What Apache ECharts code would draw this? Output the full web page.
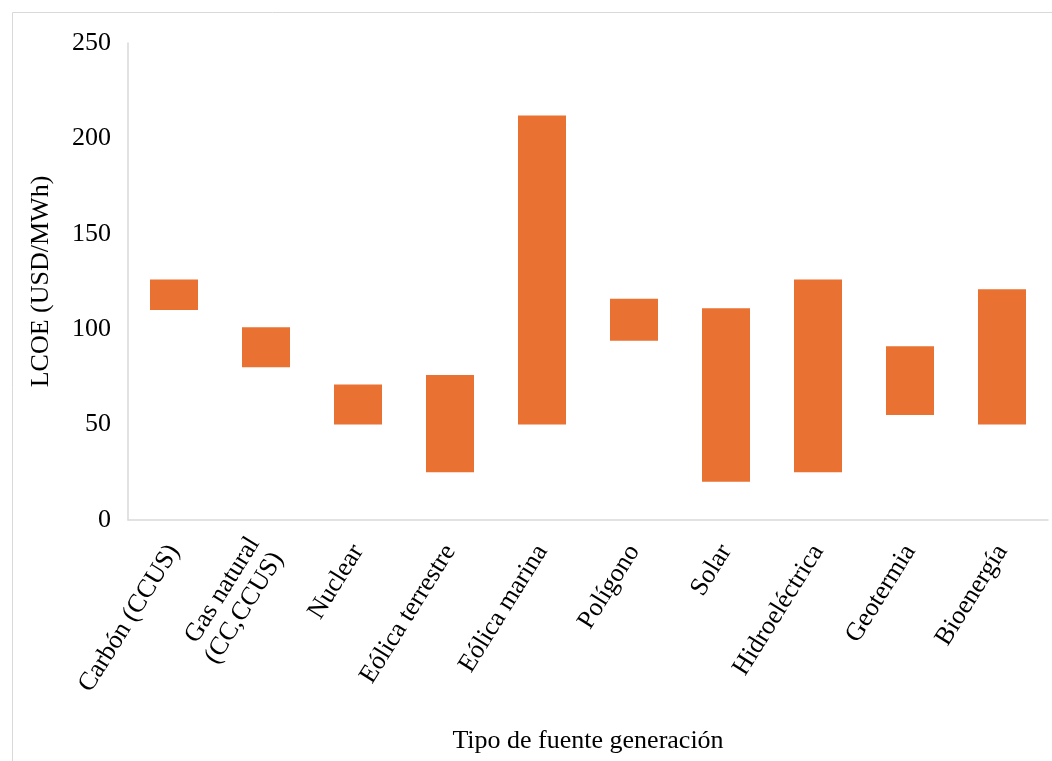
<!DOCTYPE html>
<html>
<head>
<meta charset="utf-8">
<script src="https://cdn.jsdelivr.net/npm/echarts@6/dist/echarts.min.js"></script>
<style>
html,body{margin:0;padding:0;background:#fff;}
#chart{width:1052px;height:761px;}
</style>
</head>
<body>
<div id="chart"></div>
<script>
const categories = ['Carbón (CCUS)', 'Gas natural\n(CC,CCUS)', 'Nuclear', 'Eólica terrestre', 'Eólica marina', 'Polígono', 'Solar', 'Hidroeléctrica', 'Geotermia', 'Bioenergía'];
const lowValues  = [110, 80, 50, 25, 50, 94, 20, 25, 55, 50];
const highValues = [126, 101, 71, 76, 212, 116, 111, 126, 91, 121];
const yTicks = [0, 50, 100, 150, 200, 250];

const rangeValues = highValues.map((h, i) => h - lowValues[i]);
const font = 'Liberation Serif, Times New Roman, serif';

const chart = echarts.init(document.getElementById('chart'));
chart.setOption({
  backgroundColor: '#ffffff',
  animation: false,
  graphic: [{
    type: 'rect', left: 10, top: 10, silent: true,
    shape: { width: 1200, height: 900 },
    style: { fill: 'none', stroke: '#d9d9d9', lineWidth: 1 }
  }],
  grid: { left: 128, right: 4, top: 43, bottom: 241 },
  xAxis: {
    type: 'category',
    data: categories,
    name: 'Tipo de fuente generación',
    nameLocation: 'middle',
    nameGap: 208,
    nameTextStyle: { fontFamily: font, fontSize: 26, color: '#000' },
    axisLine: { lineStyle: { color: '#d9d9d9', width: 1.5 } },
    axisTick: { show: false },
    axisLabel: { rotate: 58, interval: 0, margin: 27, fontFamily: font, fontSize: 26, color: '#000', lineHeight: 28 }
  },
  yAxis: {
    type: 'value',
    min: yTicks[0], max: yTicks[yTicks.length - 1], interval: 50,
    name: 'LCOE (USD/MWh)',
    nameLocation: 'middle',
    nameGap: 74,
    nameTextStyle: { fontFamily: font, fontSize: 26, color: '#000' },
    axisLine: { show: true, lineStyle: { color: '#d9d9d9', width: 1.5 } },
    axisTick: { show: false },
    splitLine: { show: false },
    axisLabel: { margin: 17, fontFamily: font, fontSize: 26, color: '#000' }
  },
  series: [
    {
      type: 'bar', stack: 'r', barWidth: 48,
      data: lowValues,
      itemStyle: { color: 'transparent' },
      silent: true
    },
    {
      type: 'bar', stack: 'r', barWidth: 48,
      data: rangeValues,
      itemStyle: { color: '#E97132' }
    }
  ]
});
</script>
</body>
</html>
